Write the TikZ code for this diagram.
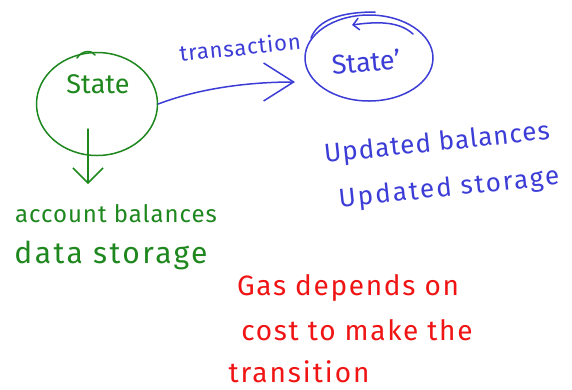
\documentclass[tikz,border=0pt]{standalone}
\usepackage{fontspec}
\setmainfont{Fira Sans}
\usetikzlibrary{shapes.geometric,arrows.meta}
\definecolor{hgreen}{RGB}{30,135,30}
\definecolor{hblue}{RGB}{60,60,215}
\definecolor{hred}{RGB}{240,20,20}
\tikzset{
  pen/.style={line width=1.5pt, line cap=round, line join=round},
  bubble/.style={pen, draw, ellipse, inner sep=0pt},
  hand/.style={inner sep=0pt},
  redtxt/.style={hand, hred, font=\fontsize{28}{30}\selectfont\addfontfeature{LetterSpace=6}},
  bluetxt/.style={hand, hblue, rotate=6},
}
\begin{document}
\begin{tikzpicture}[x=1pt,y=-1pt]
\useasboundingbox[fill=white] (0,0) rectangle (572,389);
% green state
\node[bubble, hgreen, minimum width=121pt, minimum height=103pt] (s1) at (97,104) {};
\node[hand, hgreen, font=\fontsize{27}{29}\selectfont] (s1t) at (98,84) {State};
\draw[pen, hgreen] (77,58) .. controls (82,50) and (92,50) .. (95,55);
\coordinate (g0) at (88,129);
\coordinate (g1) at (88,184);
\node[hand, hgreen, font=\fontsize{24}{26}\selectfont\addfontfeature{LetterSpace=4}] (acc) at (116,214) {account balances};
\node[hand, hgreen, font=\fontsize{30}{32}\selectfont\addfontfeature{LetterSpace=8}] (dat) at (111,255) {data storage};
\draw[pen, hgreen, -{Straight Barb[length=15pt,width=30pt,line width=1.5pt]}] (g0) -- (g1);
% blue state'
\node[bubble, hblue, minimum width=128pt, minimum height=86pt] (s2) at (369,58) {};
\node[hand, hblue, font=\fontsize{27}{29}\selectfont, rotate=5] (s2t) at (366,62) {State'};
\draw[pen, hblue] (375,12) .. controls (340,12) and (318,20) .. (311,38);
\draw[pen, hblue, -{Straight Barb[length=6pt,width=12pt,line width=1.5pt]}] (413,34) .. controls (400,22) and (380,21) .. (352,25);
% transaction
\coordinate (t1) at (295,82);
\draw[pen, hblue, -{Straight Barb[length=30pt,width=38pt,line width=1.5pt]}] (s1.east) .. controls (200,88) and (250,82) .. (t1);
\node[hand, hblue, font=\fontsize{22}{24}\selectfont\addfontfeature{LetterSpace=4}, rotate=6] (tr) at (240,47) {transaction};
% updated
\node[bluetxt, font=\fontsize{26}{28}\selectfont\addfontfeature{LetterSpace=4}] (ub) at (437,144) {Updated balances};
\node[bluetxt, font=\fontsize{26}{28}\selectfont\addfontfeature{LetterSpace=8}] (us) at (449,189) {Updated storage};
% gas
\node[redtxt] (g1) at (348,288) {Gas depends on};
\node[redtxt] (g2) at (357,330) {cost to make the};
\node[redtxt, font=\fontsize{28}{30}\selectfont\addfontfeature{LetterSpace=7}] (g3) at (299,372) {transition};
\end{tikzpicture}
\end{document}
